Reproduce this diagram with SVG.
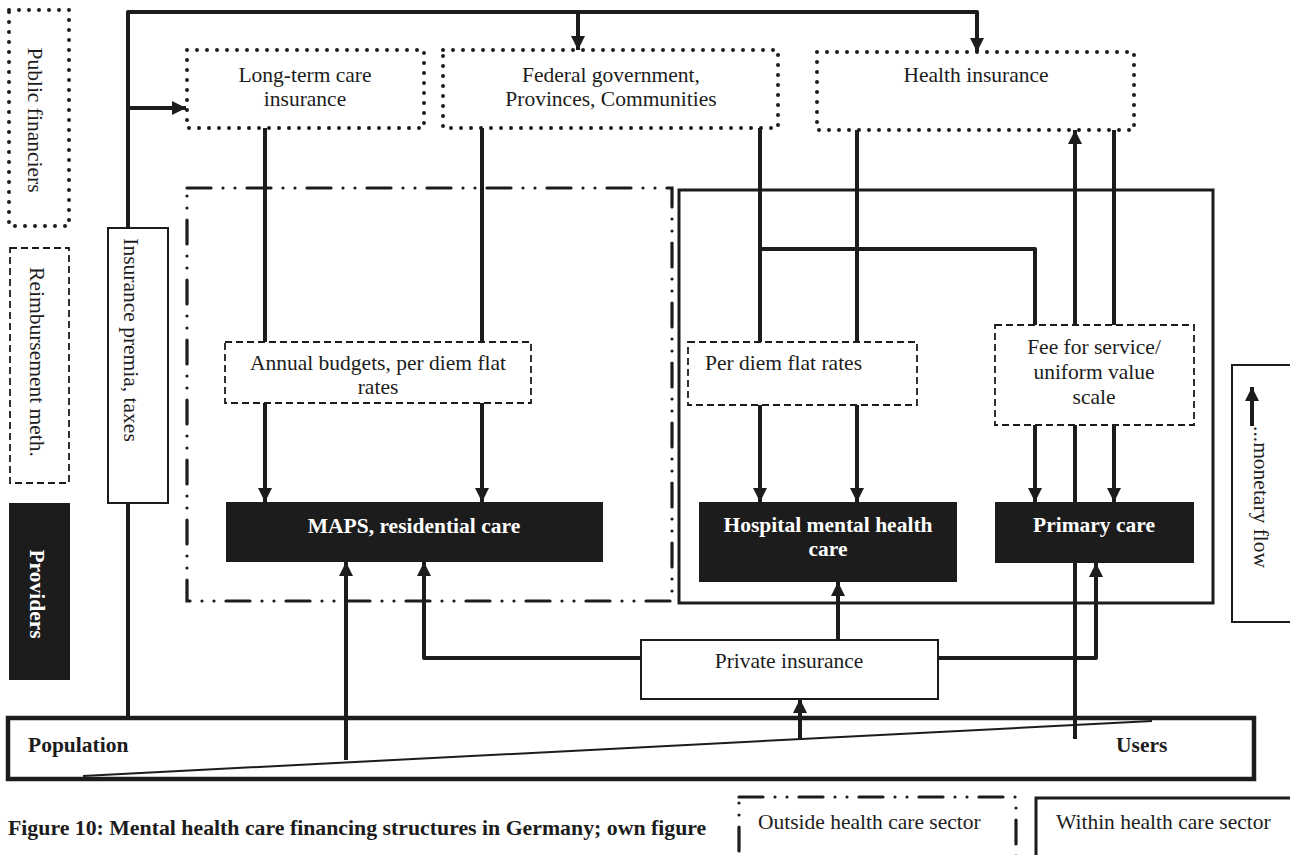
<svg xmlns="http://www.w3.org/2000/svg" width="1290" height="855" viewBox="0 0 1290 855">
<defs>
<style>
.t{font-family:"Liberation Serif","Times New Roman",serif;font-size:21.5px;fill:#1c1c1c}
.c{text-anchor:middle}
.b{font-weight:bold}
.w{fill:#ffffff}
.ln{fill:none;stroke:#1c1c1c;stroke-width:4;stroke-linejoin:round}
.ar{marker-end:url(#ah)}
.dot{fill:#ffffff;stroke:#1c1c1c;stroke-width:4;stroke-dasharray:0 10;stroke-linecap:round}
.dsh{fill:#ffffff;stroke:#1c1c1c;stroke-width:1.8;stroke-dasharray:7 4}
.dd{fill:none;stroke:#1c1c1c;stroke-width:3.2;stroke-dasharray:24 12 0 12 0 12;stroke-linecap:round}
.sol{fill:#ffffff;stroke:#1c1c1c;stroke-width:2}
.blk{fill:#1c1c1c;stroke:none}
</style>
<marker id="ah" markerUnits="userSpaceOnUse" markerWidth="14" markerHeight="14" refX="14" refY="7" orient="auto">
<path d="M0,0 L14,7 L0,14 z" fill="#1c1c1c"/>
</marker>
</defs>
<rect width="1290" height="855" fill="#ffffff"/>

<!-- legend left -->
<g id="legend-public">
<rect class="dot" x="9" y="10" width="60" height="216"/>
<text class="t c" transform="translate(36,120) rotate(90)" dy="0.35em">Public financiers</text>
</g>
<g id="legend-reimb">
<rect class="dsh" x="10" y="248" width="59" height="235"/>
<text class="t c" transform="translate(38,362) rotate(90)" dy="0.35em">Reimbursement meth.</text>
</g>
<g id="legend-providers">
<rect class="blk" x="9" y="503" width="61" height="177"/>
<text class="t c b w" transform="translate(38,594) rotate(90)" dy="0.35em">Providers</text>
</g>

<!-- sector boxes -->
<g id="outside-sector">
<rect class="dd" x="187" y="188" width="485" height="413"/>
</g>
<g id="within-sector">
<rect x="679" y="190" width="534" height="413" fill="none" stroke="#1c1c1c" stroke-width="3"/>
</g>

<!-- population -->
<g id="population">
<rect x="8" y="718" width="1246" height="61" fill="#ffffff" stroke="#1c1c1c" stroke-width="4.5"/>
<line x1="83" y1="776" x2="1152" y2="721" stroke="#1c1c1c" stroke-width="2"/>
<text class="t b" x="28" y="752">Population</text>
<text class="t b" x="1116" y="752">Users</text>
</g>

<!-- connectors -->
<g id="connectors">
<path class="ln ar" d="M128,718 V12 H977 V52"/>
<path class="ln ar" d="M578,12 V50"/>
<path class="ln ar" d="M128,108 H186"/>
<path class="ln" d="M265,128 V342"/>
<path class="ln" d="M482,128 V342"/>
<path class="ln ar" d="M265,403 V502"/>
<path class="ln ar" d="M482,403 V502"/>
<path class="ln" d="M760,128 V342"/>
<path class="ln" d="M760,249 H1035 V325"/>
<path class="ln" d="M857,130 V342"/>
<path class="ln" d="M1114,130 V325"/>
<path class="ln ar" d="M760,405 V502"/>
<path class="ln ar" d="M857,405 V502"/>
<path class="ln ar" d="M1035,425 V502"/>
<path class="ln ar" d="M1114,425 V502"/>
<path class="ln ar" d="M1075,739 V130"/>
<path class="ln ar" d="M800,740 V699"/>
<path class="ln ar" d="M641,658 H424 V562"/>
<path class="ln ar" d="M838,640 V582"/>
<path class="ln ar" d="M938,658 H1096 V563"/>
<path class="ln ar" d="M346,760 V562"/>
</g>

<!-- nodes -->
<g id="insurance-premia">
<rect class="sol" x="108" y="228" width="60" height="275"/>
<text class="t c" transform="translate(132,340) rotate(90)" dy="0.35em">Insurance premia, taxes</text>
</g>
<g id="ltc-insurance">
<rect class="dot" x="187" y="50" width="237" height="78"/>
<text class="t c" x="305" y="82">Long-term care</text>
<text class="t c" x="305" y="106">insurance</text>
</g>
<g id="federal-government">
<rect class="dot" x="443" y="50" width="335" height="78"/>
<text class="t c" x="611" y="82">Federal government,</text>
<text class="t c" x="611" y="106">Provinces, Communities</text>
</g>
<g id="health-insurance">
<rect class="dot" x="817" y="52" width="317" height="78"/>
<text class="t c" x="976" y="82">Health insurance</text>
</g>
<g id="annual-budgets">
<rect class="dsh" x="225" y="342" width="306" height="61"/>
<text class="t c" x="378" y="370">Annual budgets, per diem flat</text>
<text class="t c" x="378" y="394">rates</text>
</g>
<g id="per-diem">
<rect class="dsh" x="688" y="342" width="229" height="63"/>
<text class="t" x="705" y="370">Per diem flat rates</text>
</g>
<g id="fee-for-service">
<rect class="dsh" x="995" y="325" width="199" height="100"/>
<text class="t c" x="1094" y="354">Fee for service/</text>
<text class="t c" x="1094" y="379">uniform value</text>
<text class="t c" x="1094" y="404">scale</text>
</g>
<g id="maps">
<rect class="blk" x="226" y="502" width="377" height="60"/>
<text class="t c b w" x="414" y="533">MAPS, residential care</text>
</g>
<g id="hospital">
<rect class="blk" x="699" y="502" width="258" height="80"/>
<text class="t c b w" x="828" y="532">Hospital mental health</text>
<text class="t c b w" x="828" y="556">care</text>
</g>
<g id="primary-care">
<rect class="blk" x="995" y="502" width="199" height="61"/>
<text class="t c b w" x="1094" y="532">Primary care</text>
</g>
<g id="private-insurance">
<rect class="sol" x="641" y="640" width="297" height="59"/>
<text class="t c" x="789" y="668">Private insurance</text>
</g>

<!-- right legend -->
<g id="legend-monetary">
<rect x="1232" y="365" width="70" height="257" fill="none" stroke="#1c1c1c" stroke-width="2"/>
<line x1="1252" y1="426" x2="1252" y2="387" stroke="#1c1c1c" stroke-width="4" marker-end="url(#ah)"/>
<text class="t" transform="translate(1262,426) rotate(90)" dy="0.35em">...monetary flow</text>
</g>

<!-- bottom legend -->
<g id="legend-outside">
<rect class="dd" x="739" y="797" width="277" height="80"/>
<text class="t" x="758" y="829">Outside health care sector</text>
</g>
<g id="legend-within">
<rect x="1036" y="798" width="270" height="80" fill="none" stroke="#1c1c1c" stroke-width="3"/>
<text class="t" x="1056" y="829">Within health care sector</text>
</g>

<g id="caption">
<text class="t b" x="8" y="835" style="font-size:21.8px">Figure 10: Mental health care financing structures in Germany; own figure</text>
</g>
</svg>
